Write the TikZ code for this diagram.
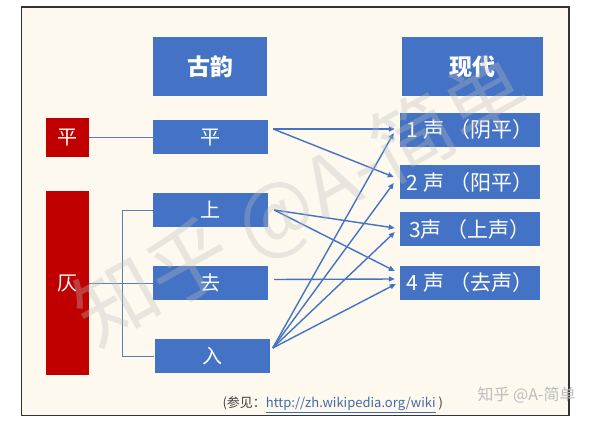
\documentclass[tikz,border=0pt]{standalone}
\usepackage{fontspec}
\setmainfont{Noto Sans CJK SC}
\usetikzlibrary{arrows.meta,calc}

\newlength{\du}
\setlength{\du}{1pt}

\tikzset{
  headbox/.style={fill=boxblue, text=white, inner sep=0pt, minimum height=59\du,
    font=\fontsize{23}{23}\selectfont\bfseries},
  bluebox/.style={fill=boxblue, text=white, inner sep=0pt, minimum width=115\du,
    minimum height=34\du, font=\fontsize{20}{20}\selectfont},
  tonebox/.style={fill=boxblue, text=white, inner sep=0pt, minimum width=140\du,
    minimum height=34\du, font=\fontsize{21}{21}\selectfont},
  redbox/.style={fill=boxred, text=white, inner sep=0pt, minimum width=43\du,
    font=\fontsize{20}{20}\selectfont},
  linkline/.style={draw=linkgray, line width=0.8\du},
  tonearrow/.style={draw=boxblue, line width=1.4\du, -{Triangle[length=6pt,width=5pt]}},
}

\begin{document}
\begin{tikzpicture}
\pgftransformyscale{-1.000000}
\definecolor{boxblue}{rgb}{0.267, 0.447, 0.769}
\definecolor{boxred}{rgb}{0.753, 0.000, 0.000}
\definecolor{paper}{rgb}{0.992, 0.976, 0.937}
\definecolor{linkgray}{rgb}{0.380, 0.490, 0.690}
\definecolor{markgray}{rgb}{0.740, 0.740, 0.740}
\definecolor{urlblue}{rgb}{0.250, 0.420, 0.660}

\useasboundingbox (0\du,0\du) rectangle (600\du,422\du);
\draw[line width=1.2\du, draw=black!80, fill=paper] (21.5\du,7\du) rectangle (569\du,415.5\du);

% headers
\node[headbox, minimum width=114\du] (gu) at (210\du,66.5\du) {古韵};
\node[headbox, minimum width=141\du] (xd) at (472.5\du,66.5\du) {现代};

% ping / ze
\node[redbox, minimum height=39\du] (rping) at (67.5\du,137.5\du) {平};
\node[redbox, minimum height=184\du] (rze) at (67.5\du,283\du) {仄};

% old tones
\node[bluebox] (bping) at (210.5\du,137.5\du) {平};
\node[bluebox] (bshang) at (210.5\du,210\du) {上};
\node[bluebox] (bqu) at (210.5\du,283\du) {去};
\node[bluebox] (bru) at (212\du,356\du) {入};

% modern tones
\node[tonebox] (s1) at (470\du,130\du) {1 声 （阴平）};
\node[tonebox] (s2) at (470\du,182.5\du) {2 声 （阳平）};
\node[tonebox] (s3) at (470\du,229.5\du) {3声 （上声）};
\node[tonebox] (s4) at (470\du,283\du) {4 声 （去声）};

% ping/ze to old tones
\coordinate (zj) at ($(rze.east)+(33\du,0\du)$);
\draw[linkline] (rping.east) -- (bping.west);
\draw[linkline] (rze.east) -- (bqu.west);
\draw[linkline] (bshang.west) -| (zj) |- (bru.west);

% old to modern
\draw[tonearrow] ($(bping.east)+(5\du,-8.5\du)$) -- ($(s1.west)+(-5\du,-1\du)$);
\draw[tonearrow] ($(bping.east)+(5\du,-8.5\du)$) -- ($(s2.west)+(-6\du,-5.5\du)$);
\draw[tonearrow] ($(bshang.east)+(6\du,0\du)$) -- ($(s3.west)+(-5\du,-1.5\du)$);
\draw[tonearrow] ($(bshang.east)+(6\du,0\du)$) -- ($(s4.west)+(-5\du,-12\du)$);
\draw[tonearrow] ($(bqu.east)+(6\du,-3.5\du)$) -- ($(s4.west)+(-5\du,-4\du)$);
\draw[tonearrow] ($(bru.east)+(3\du,-8\du)$) -- ($(s1.west)+(-6\du,3\du)$);
\draw[tonearrow] ($(bru.east)+(3\du,-8\du)$) -- ($(s2.west)+(-6\du,0.5\du)$);
\draw[tonearrow] ($(bru.east)+(3\du,-8\du)$) -- ($(s3.west)+(-5\du,2.5\du)$);
\draw[tonearrow] ($(bru.east)+(3\du,-8\du)$) -- ($(s4.west)+(-4\du,1\du)$);

% source line
\node[anchor=west, text=black!75, font=\fontsize{13}{13}\selectfont] (src) at (219\du,405\du)
  {(参见：\textcolor{urlblue}{\underline{http://zh.wikipedia.org/wiki}} )};

% watermarks
\node[anchor=west, text=markgray, font=\fontsize{16}{16}\selectfont] (mark) at (474\du,395\du) {知乎 @A-简单};
\node[text=markgray, opacity=0.33, rotate=29, font=\fontsize{82}{82}\selectfont] (bigmark) at (302\du,202\du) {知乎 @A-简单};
\end{tikzpicture}
\end{document}
